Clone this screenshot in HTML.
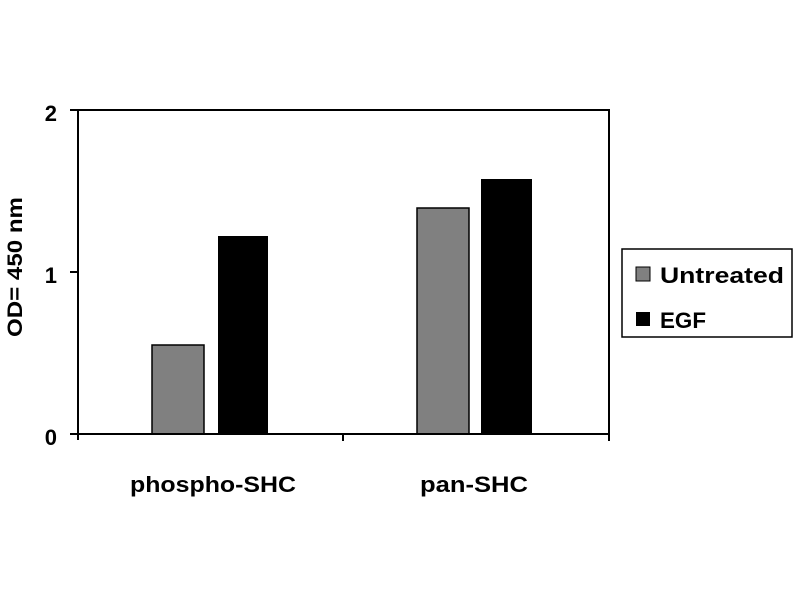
<!DOCTYPE html>
<html><head><meta charset="utf-8"><style>body{margin:0;background:#fff}</style></head><body>
<svg width="800" height="600" xmlns="http://www.w3.org/2000/svg" font-family="Liberation Sans, sans-serif" font-weight="bold">
<rect width="800" height="600" fill="#fff"/>
<rect x="152" y="345" width="52" height="89" fill="#808080" stroke="#000" stroke-width="1.5"/>
<rect x="218" y="236" width="50" height="198" fill="#000"/>
<rect x="417" y="208" width="52" height="226" fill="#808080" stroke="#000" stroke-width="1.5"/>
<rect x="481" y="179" width="51" height="255" fill="#000"/>
<g stroke="#000" stroke-width="2" fill="none">
<path d="M78 110 H609 V434 M78 110 V440 M70 434 H609 M70 110 H78 M70 272 H78 M343 434 V441 M609 434 V441"/>
</g>
<g font-size="22" text-anchor="end">
<text x="57" y="121">2</text>
<text x="57" y="283">1</text>
<text x="57" y="445">0</text>
</g>
<text transform="translate(22,337) rotate(-90)" font-size="21" textLength="140" lengthAdjust="spacingAndGlyphs">OD= 450 nm</text>
<g font-size="22">
<text x="130" y="492" textLength="166" lengthAdjust="spacingAndGlyphs">phospho-SHC</text>
<text x="420" y="492" textLength="108" lengthAdjust="spacingAndGlyphs">pan-SHC</text>
</g>
<rect x="622" y="249" width="170" height="88" fill="#fff" stroke="#000" stroke-width="1.5"/>
<rect x="636" y="267" width="14" height="14" fill="#808080" stroke="#000" stroke-width="1"/>
<rect x="636" y="312" width="14" height="14" fill="#000"/>
<g font-size="22">
<text x="660" y="283" textLength="124" lengthAdjust="spacingAndGlyphs">Untreated</text>
<text x="660" y="328" textLength="46" lengthAdjust="spacingAndGlyphs">EGF</text>
</g>
</svg>
</body></html>
